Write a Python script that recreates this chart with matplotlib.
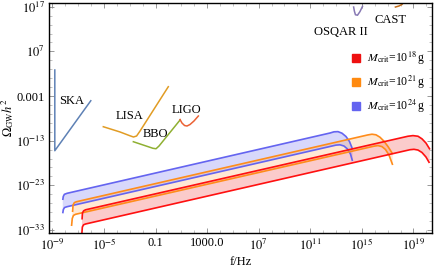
import numpy as np
import matplotlib
matplotlib.use("Agg")
import matplotlib.pyplot as plt
from matplotlib.patches import Patch
from matplotlib.ticker import FixedLocator, FixedFormatter, NullFormatter

plt.rcParams['font.family'] = 'serif'
plt.rcParams['font.serif'] = ['Liberation Serif', 'DejaVu Serif']
plt.rcParams['mathtext.fontset'] = 'stix'

# --- detector sensitivity curves (log10 f, log10 Omega h^2) ---
ska_f = [-8.81, -8.81, -6.02]
ska_o = [2.83, -15.24, -4.05]
lisa_f = [-5.05, -3.75, -2.98, -2.71, -2.47, -2.20, -0.01]
lisa_o = [-9.87, -11.05, -11.90, -12.17, -11.95, -10.83, -0.91]
bbo_f = [-2.72, -1.20, -0.96, -0.73, 0.90]
bbo_o = [-13.23, -14.70, -14.80, -14.19, -8.37]
ligo_f = [0.90, 1.05, 1.25, 1.44, 1.67, 1.98, 2.32]
ligo_o = [-8.26, -9.04, -9.60, -9.71, -9.38, -8.59, -7.47]
osqar_f = [14.36, 14.42, 14.50, 14.66, 14.85, 15.05]
osqar_o = [16.93, 16.00, 15.20, 15.10, 15.90, 17.09]
cast_f = [17.60, 17.87, 18.10, 18.26]
cast_o = [16.93, 17.16, 17.49, 18.05]

# --- GW bands for three M_crit values: upper and lower edges ---
blue_up_f = [-8.194, -8.155, -8.070, -7.860, 12.527, 12.837, 13.147, 13.457, 13.767, 14.039, 14.271]
blue_up_o = [-26.28, -25.50, -25.01, -24.78, -11.28, -11.01, -10.97, -11.32, -12.06, -13.18, -14.86]
blue_lo_f = [-8.194, -8.147, -8.054, -7.860, 12.993, 13.302, 13.612, 13.884, 14.116, 14.271]
blue_lo_o = [-29.26, -28.41, -27.96, -27.78, -13.99, -13.92, -14.19, -14.86, -15.98, -17.55]

orange_up_f = [-7.434, -7.395, -7.295, -7.124, 15.473, 15.783, 16.093, 16.403, 16.713, 17.023, 17.388]
orange_up_o = [-28.97, -27.40, -26.86, -26.66, -11.70, -11.55, -11.68, -12.22, -13.11, -14.30, -15.98]
orange_lo_f = [-7.512, -7.457, -7.364, -7.202, 15.938, 16.248, 16.558, 16.830, 17.101, 17.388]
orange_lo_o = [-32.10, -30.42, -29.73, -29.48, -14.23, -14.10, -14.32, -14.97, -16.20, -18.44]

red_up_f = [-6.698, -6.667, -6.574, -6.426, 18.574, 18.961, 19.349, 19.659, 19.969, 20.279]
red_up_o = [-30.65, -29.19, -28.70, -28.47, -12.00, -11.86, -12.00, -12.58, -13.52, -14.97]
red_lo_f = [-6.721, -6.674, -6.581, -6.426, 18.729, 19.039, 19.349, 19.659, 19.969, 20.240]
red_lo_o = [-34.12, -32.33, -31.83, -31.65, -15.02, -14.93, -15.09, -15.64, -16.65, -17.99]

xticks = [-9, -5, -1, 3, 7, 11, 15, 19]
xticklabels = [r'$10^{-9}$', r'$10^{-5}$', '0.1', '1000.0', r'$10^{7}$', r'$10^{11}$', r'$10^{15}$', r'$10^{19}$']
yticks = [-33, -23, -13, -3, 7, 17]
yticklabels = [r'$10^{-33}$', r'$10^{-23}$', r'$10^{-13}$', '0.001', r'$10^{7}$', r'$10^{17}$']

labels = [r'$M_{\rm crit}$=10$^{18}\,$g', r'$M_{\rm crit}$=10$^{21}\,$g', r'$M_{\rm crit}$=10$^{24}\,$g']

def p(a):
    return 10.0 ** np.asarray(a)

fig = plt.figure(figsize=(4.36, 2.70), dpi=100)
ax = fig.add_axes([0.1124, 0.136, 0.8791, 0.854])
ax.set_xscale('log')
ax.set_yscale('log')

bands = [
    (blue_up_f, blue_up_o, blue_lo_f, blue_lo_o, '#6464f0', '#6464f0', 0.25),
    (orange_up_f, orange_up_o, orange_lo_f, orange_lo_o, '#ff8c1a', '#ff9a40', 0.22),
    (red_up_f, red_up_o, red_lo_f, red_lo_o, '#ff1010', '#f03030', 0.25),
]
for uf, uo, lf, lo, lc, fc, a in bands:
    poly_f = list(uf) + list(lf)[::-1]
    poly_o = list(uo) + list(lo)[::-1]
    ax.fill(p(poly_f), p(poly_o), color=fc, alpha=a, lw=0)
for uf, uo, lf, lo, lc, fc, a in bands:
    ax.plot(p(uf), p(uo), color=lc, lw=1.2, solid_capstyle='butt')
    ax.plot(p(lf), p(lo), color=lc, lw=1.2, solid_capstyle='butt')

ax.plot(p(ska_f), p(ska_o), color='#5e81b5', lw=1.1)
ax.plot(p(lisa_f), p(lisa_o), color='#e19c24', lw=1.1)
ax.plot(p(bbo_f), p(bbo_o), color='#8fb032', lw=1.1)
ax.plot(p(ligo_f), p(ligo_o), color='#eb6235', lw=1.1)
ax.plot(p(osqar_f), p(osqar_o), color='#8778b3', lw=1.1)
ax.plot(p(cast_f), p(cast_o), color='#c56e1a', lw=1.1)

tk = dict(fontsize=9, ha='center', va='center')
ax.text(10**-7.48, 10**-4.1, 'SKA', **tk)
ax.text(10**-3.0, 10**-7.5, 'LISA', **tk)
ax.text(10**-1.0, 10**-11.5, 'BBO', **tk)
ax.text(10**1.4, 10**-6.1, 'LIGO', **tk)
ax.text(10**13.4, 10**11.4, 'OSQAR II', **tk)
ax.text(10**17.2, 10**14.0, 'CAST', **tk)

ax.set_xlim(10**-9.26, 10**20.46)
ax.set_ylim(10**-33.73, 10**17.9)

ax.xaxis.set_major_locator(FixedLocator(p(xticks)))
ax.xaxis.set_major_formatter(FixedFormatter(xticklabels))
ax.xaxis.set_minor_locator(FixedLocator(p(np.arange(-9, 21, 1))))
ax.xaxis.set_minor_formatter(NullFormatter())
ax.yaxis.set_major_locator(FixedLocator(p(yticks)))
ax.yaxis.set_major_formatter(FixedFormatter(yticklabels))
ax.yaxis.set_minor_locator(FixedLocator(p(np.arange(-33, 18, 2))))
ax.yaxis.set_minor_formatter(NullFormatter())
ax.tick_params(which='both', direction='in', top=True, right=True, labelsize=9, pad=3)
ax.tick_params(which='major', length=3.5, width=0.6, color='#888888')
ax.tick_params(which='minor', length=2, width=0.5, color='#aaaaaa')
for s in ax.spines.values():
    s.set_linewidth(1.0)

ax.set_xlabel('f/Hz', fontsize=9, labelpad=2)
ax.set_ylabel(r'$\Omega_{\rm GW}h^2$', fontsize=9, labelpad=0)

handles = [Patch(color='#ee1010'), Patch(color='#ff8a10'), Patch(color='#6464f0')]
ax.legend(handles, labels, loc='upper left', bbox_to_anchor=(0.79, 0.795), frameon=False,
          fontsize=8.5, handlelength=0.7, handleheight=0.7, handletextpad=0.6,
          labelspacing=0.55, borderaxespad=0, borderpad=0)

fig.savefig('out.png', dpi=100)
